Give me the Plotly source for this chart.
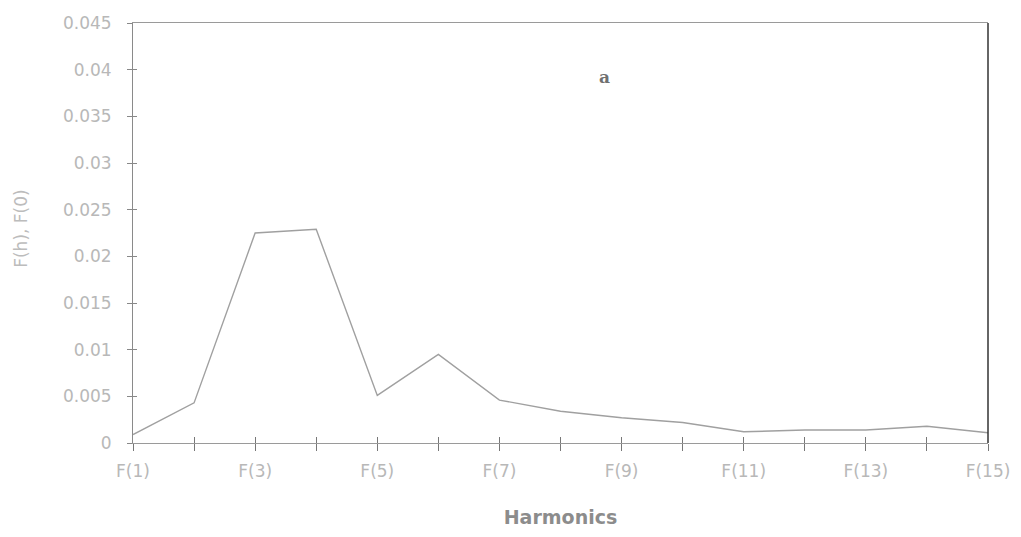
import plotly.graph_objects as go

harmonics = ["F(1)", "F(2)", "F(3)", "F(4)", "F(5)", "F(6)", "F(7)", "F(8)",
             "F(9)", "F(10)", "F(11)", "F(12)", "F(13)", "F(14)", "F(15)"]
ratio = [0.0009, 0.0043, 0.0225, 0.0229, 0.0051, 0.0095, 0.0046, 0.0034,
         0.0027, 0.0022, 0.0012, 0.0014, 0.0014, 0.0018, 0.0011]
y_tick_values = [0, 0.005, 0.01, 0.015, 0.02, 0.025, 0.03, 0.035, 0.04, 0.045]
y_tick_labels = ["0", "0.005", "0.01", "0.015", "0.02", "0.025", "0.03", "0.035", "0.04", "0.045"]
x_tick_labels = [h if i % 2 == 0 else "" for i, h in enumerate(harmonics)]

tick_font = dict(family="DejaVu Sans", size=17, color="#b8b8b8")

fig = go.Figure()
fig.add_trace(go.Scatter(x=harmonics, y=ratio, mode="lines",
                         line=dict(color="#a0a0a0", width=1.4),
                         showlegend=False, hoverinfo="skip"))
# invisible helper trace so the overlay axes render their inner ticks
fig.add_trace(go.Scatter(x=harmonics, y=ratio, mode="lines", xaxis="x2", yaxis="y2",
                         line=dict(color="rgba(0,0,0,0)", width=0),
                         showlegend=False, hoverinfo="skip"))

fig.update_layout(
    width=1021, height=537,
    margin=dict(l=133, r=33, t=23, b=94),
    paper_bgcolor="white", plot_bgcolor="white",
    xaxis=dict(type="category", range=[0, 14], tickmode="array",
               tickvals=harmonics, ticktext=x_tick_labels,
               ticks="outside", ticklen=7, tickcolor="#777", tickwidth=1,
               showline=True, linecolor="#9a9a9a", linewidth=1, mirror=True,
               showgrid=False, zeroline=False, tickfont=tick_font,
               ticklabelstandoff=6,
               title=dict(text="<b>Harmonics</b>", standoff=30,
                          font=dict(family="DejaVu Sans", size=19, color="#8c8c8c"))),
    xaxis2=dict(type="category", range=[0, 14], overlaying="x", anchor="y",
                tickmode="array", tickvals=harmonics, showticklabels=False,
                ticks="inside", ticklen=6, tickcolor="#777", tickwidth=1,
                showline=False, showgrid=False, zeroline=False),
    yaxis=dict(range=[0, 0.045], tickmode="array", tickvals=y_tick_values,
               ticktext=y_tick_labels, ticks="outside", ticklen=5,
               tickcolor="#888", showline=True, linecolor="#8a8a8a", linewidth=1,
               showgrid=False, zeroline=False, tickfont=tick_font,
               ticklabelstandoff=12),
    yaxis2=dict(range=[0, 0.045], overlaying="y", anchor="x", side="left",
                tickmode="array", tickvals=y_tick_values, showticklabels=False,
                ticks="inside", ticklen=4, tickcolor="#888",
                showline=False, showgrid=False, zeroline=False),
    annotations=[
        dict(text="F(h), F(0)", textangle=-90, xref="paper", yref="paper",
             x=-0.131, y=0.51, xanchor="center", yanchor="middle", showarrow=False,
             font=dict(family="DejaVu Sans", size=17, color="#bcbcbc")),
        dict(text="<b>a</b>", xref="x", yref="y", x=7.72, y=0.0392, showarrow=False,
             font=dict(family="DejaVu Serif", size=17, color="#707070")),
    ],
    shapes=[dict(type="line", xref="paper", yref="paper", x0=1, x1=1, y0=0, y1=1,
                 line=dict(color="#333", width=1.5))],
)

fig.write_html("out.html")
